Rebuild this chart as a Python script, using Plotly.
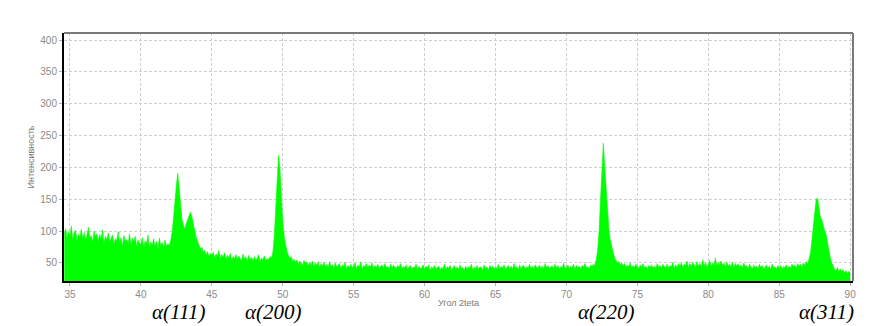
import plotly.graph_objects as go

# 2-theta start and step (degrees)
x_start = 34.6
x_step = 0.1

# Intensity values, 0.1 deg apart, starting at 34.6
intensity = [
    96, 104, 88, 99,
    92, 108, 86, 97, 101, 84, 95, 90, 103, 87,   # 35
    98, 85, 94, 106, 89, 93, 82, 100, 91, 96,    # 36
    84, 95, 88, 102, 80, 92, 86, 97, 83, 90,     # 37
    94, 79, 88, 85, 99, 81, 90, 76, 93, 84,      # 38
    87, 80, 96, 78, 89, 83, 92, 75, 86, 81,      # 39
    79, 90, 74, 85, 80, 94, 72, 83, 78, 88,      # 40
    75, 84, 71, 89, 77, 82, 73, 86, 76, 80,      # 41
    78, 85, 98, 120, 150, 172, 191, 165, 140, 118,  # 42
    108, 104, 112, 118, 126, 130, 122, 110, 98, 90,  # 43
    84, 78, 72, 75, 66, 70, 62, 68, 60, 65,      # 44
    61, 67, 58, 64, 60, 70, 57, 63, 59, 66,      # 45
    56, 62, 58, 65, 54, 60, 57, 63, 55, 61,      # 46
    58, 53, 64, 56, 60, 52, 62, 55, 59, 53,      # 47
    60, 54, 57, 63, 52, 58, 55, 61, 53, 57,      # 48
    55, 60, 58, 66, 90, 140, 185, 219, 200, 150,  # 49
    115, 92, 78, 68, 62, 57, 60, 52, 56, 50,     # 50
    55, 48, 53, 50, 46, 54, 49, 52, 45, 51,      # 51
    47, 53, 44, 50, 46, 52, 43, 49, 45, 51,      # 52
    44, 48, 42, 52, 45, 47, 41, 50, 44, 46,      # 53
    49, 42, 47, 44, 51, 40, 46, 43, 48, 42,      # 54
    45, 50, 41, 47, 43, 52, 40, 46, 44, 49,      # 55
    42, 47, 44, 50, 39, 46, 43, 48, 41, 45,      # 56
    47, 41, 49, 43, 45, 40, 48, 42, 46, 44,      # 57
    41, 46, 43, 49, 40, 45, 42, 47, 39, 44,      # 58
    46, 40, 44, 42, 48, 39, 45, 41, 43, 47,      # 59
    40, 45, 42, 47, 38, 44, 41, 46, 40, 43,      # 60
    45, 39, 43, 41, 48, 40, 44, 42, 46, 38,      # 61
    42, 46, 40, 44, 39, 47, 41, 43, 38, 45,      # 62
    40, 44, 42, 48, 39, 43, 41, 46, 40, 44,      # 63
    43, 39, 47, 41, 44, 38, 46, 42, 45, 40,      # 64
    44, 41, 48, 40, 45, 42, 47, 39, 43, 46,      # 65
    41, 45, 40, 49, 42, 44, 39, 47, 41, 45,      # 66
    46, 40, 44, 42, 48, 41, 45, 40, 47, 43,      # 67
    42, 47, 41, 45, 40, 49, 43, 46, 41, 44,      # 68
    45, 41, 48, 42, 46, 40, 44, 43, 50, 41,      # 69
    43, 47, 41, 45, 42, 48, 40, 46, 43, 45,      # 70
    41, 46, 43, 49, 42, 45, 40, 47, 44, 48,      # 71
    46, 55, 70, 100, 150, 210, 238, 200, 160, 125,  # 72
    100, 85, 72, 66, 58, 54, 50, 52, 47, 50,     # 73
    45, 49, 43, 47, 44, 50, 42, 46, 43, 48,      # 74
    44, 41, 47, 43, 49, 42, 45, 40, 46, 43,      # 75
    47, 42, 45, 41, 49, 43, 46, 42, 48, 44,      # 76
    43, 48, 42, 46, 44, 51, 41, 47, 43, 49,      # 77
    45, 50, 43, 48, 46, 53, 42, 49, 45, 51,      # 78
    47, 43, 52, 45, 49, 44, 55, 46, 50, 43,      # 79
    48, 54, 44, 50, 46, 58, 45, 51, 47, 53,      # 80
    46, 50, 43, 52, 45, 48, 44, 51, 42, 49,      # 81
    45, 49, 43, 47, 42, 50, 44, 46, 41, 48,      # 82
    44, 40, 47, 42, 45, 41, 48, 43, 46, 40,      # 83
    43, 47, 41, 45, 40, 48, 42, 44, 41, 46,      # 84
    42, 46, 40, 44, 43, 47, 41, 45, 42, 48,      # 85
    44, 47, 42, 49, 45, 48, 43, 50, 46, 52,      # 86
    48, 55, 65, 85, 110, 135, 150, 152, 140, 122,  # 87
    118, 108, 100, 95, 80, 68, 58, 50, 45, 40,   # 88
    38, 43, 36, 41, 35, 40, 34, 38, 33, 37,      # 89
    35,                                          # 90
]
two_theta = [round(x_start + x_step * i, 2) for i in range(len(intensity))]

x_ticks = [35, 40, 45, 50, 55, 60, 65, 70, 75, 80, 85, 90]
y_ticks = [50, 100, 150, 200, 250, 300, 350, 400]

peak_labels = ["α(111)", "α(200)", "α(220)", "α(311)"]
peak_label_pos = [42.62, 49.32, 72.8, 88.3]

GREEN = "#00FF00"
GRID = "#cfcfcf"
TICKFONT = dict(family="Liberation Sans, Arial", size=10, color="#8a8a8a")
TITLEFONT = dict(family="Liberation Sans, Arial", size=9, color="#7a7a7a")

fig = go.Figure()
fig.add_trace(go.Scatter(
    x=two_theta, y=intensity, mode="lines",
    line=dict(color=GREEN, width=0.6),
    fill="tozeroy", fillcolor=GREEN,
    hoverinfo="x+y", showlegend=False,
))

for txt, xp in zip(peak_labels, peak_label_pos):
    fig.add_annotation(
        x=xp, xref="x", y=-0.123, yref="paper",
        text="<i>" + txt + "</i>", showarrow=False,
        font=dict(family="Liberation Serif, Times New Roman", size=21, color="#000000"),
        xanchor="center", yanchor="middle",
    )

# top and right frame (grey)
fig.add_shape(type="line", xref="paper", yref="paper", x0=0, x1=1, y0=1, y1=1,
              line=dict(color="#7a7a7a", width=2), layer="above")
fig.add_shape(type="line", xref="paper", yref="paper", x0=1, x1=1, y0=0, y1=1,
              line=dict(color="#7a7a7a", width=2), layer="above")

# the page body has an 8px margin, so the figure is sized to compensate
fig.update_layout(
    width=873, height=318,
    margin=dict(l=56, r=28, t=25, b=45),
    paper_bgcolor="white", plot_bgcolor="white",
    xaxis=dict(
        range=[34.58, 90.2], tickvals=x_ticks, ticktext=[str(v) for v in x_ticks],
        showgrid=True, gridcolor=GRID, griddash="3px,2px", gridwidth=1,
        showline=True, linecolor="#000000", linewidth=2,
        ticks="outside", ticklen=3, tickcolor="#b0b0b0",
        tickfont=TICKFONT, zeroline=False,
        title=dict(text="Угол 2teta", font=TITLEFONT, standoff=1),
        layer="above traces",
    ),
    yaxis=dict(
        range=[21.7, 411], tickvals=y_ticks, ticktext=[str(v) for v in y_ticks],
        showgrid=True, gridcolor=GRID, griddash="3px,2px", gridwidth=1,
        showline=True, linecolor="#000000", linewidth=2,
        ticks="outside", ticklen=3, tickcolor="#b0b0b0",
        tickfont=TICKFONT, zeroline=False,
        title=dict(text="Интенсивность", font=TITLEFONT, standoff=4),
        layer="above traces",
    ),
)

fig.write_html("out.html")
